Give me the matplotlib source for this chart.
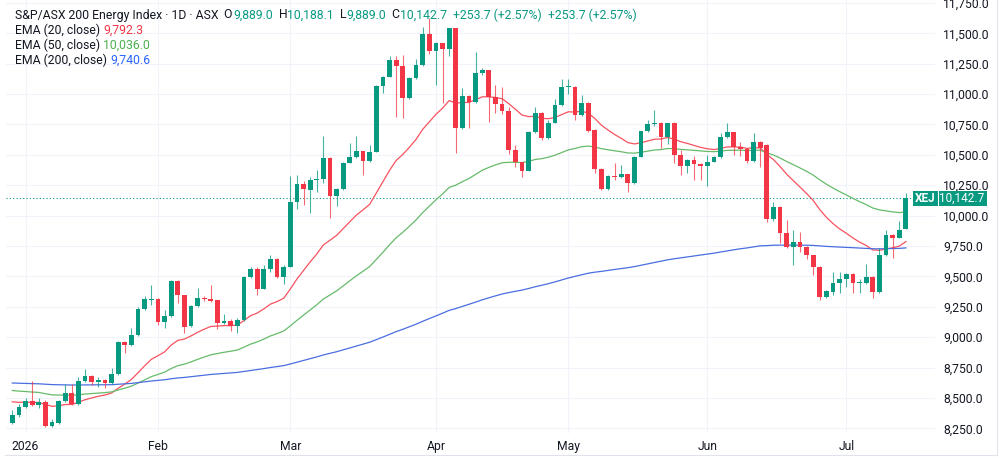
import matplotlib
matplotlib.use("Agg")
import matplotlib.pyplot as plt
import matplotlib.transforms as mtransforms
from matplotlib.patches import Rectangle
from matplotlib.lines import Line2D
import numpy as np

plt.rcParams['font.family'] = ['Roboto', 'DejaVu Sans']

# daily candles, 30 Dec 2025 .. 14 Jul 2026
opens = [8292, 8360, 8423, 8478, 8442, 8470, 8272, 8292, 8475, 8545,
         8450, 8642, 8683, 8630, 8650, 8620, 8697, 8958, 8935, 9018,
         9230, 9305, 9318, 9128, 9177, 9465, 9348, 9092, 9257, 9320,
         9318, 9305, 9118, 9135, 9092, 9142, 9493, 9560, 9400, 9560,
         9643, 9493, 9580, 10115, 10260, 10211, 10290, 10300, 10472, 10162,
         10217, 10436, 10480, 10530, 10452, 10526, 11066, 11143, 11280, 11231,
         10965, 11130, 11240, 11494, 11357, 11418, 11371, 11541, 10718, 10987,
         10938, 11171, 11198, 10978, 10918, 10863, 10540, 10444, 10370, 10690,
         10847, 10641, 10765, 10910, 11060, 11060, 10828, 10930, 10705, 10381,
         10216, 10326, 10316, 10340, 10266, 10485, 10696, 10754, 10760, 10650,
         10760, 10499, 10408, 10458, 10423, 10408, 10444, 10480, 10644, 10685,
         10567, 10552, 10452, 10608, 10581, 9970, 10073, 9855, 9745, 9780,
         9745, 9676, 9580, 9333, 9374, 9444, 9479, 9518, 9448, 9448,
         9493, 9374, 9676, 9840, 9820, 9889.0]
highs = [8400, 8450, 8500, 8640, 8500, 8480, 8330, 8480, 8612, 8615,
         8675, 8735, 8690, 8670, 8655, 8745, 8970, 8965, 9073, 9250,
         9340, 9430, 9325, 9220, 9470, 9470, 9350, 9265, 9403, 9340,
         9430, 9310, 9195, 9150, 9160, 9500, 9580, 9575, 9595, 9680,
         9648, 9590, 10326, 10334, 10285, 10320, 10376, 10655, 10480, 10230,
         10445, 10600, 10655, 10535, 10580, 11075, 11150, 11313, 11313, 11321,
         11140, 11286, 11550, 11623, 11425, 11420, 11545, 11545, 11048, 10990,
         11349, 11215, 11200, 11075, 11060, 10890, 10580, 10445, 10700, 10890,
         10850, 10790, 10957, 11122, 11122, 11070, 10990, 10935, 10710, 10390,
         10335, 10435, 10416, 10345, 10490, 10700, 10787, 10870, 10770, 10765,
         10770, 10540, 10470, 10490, 10430, 10499, 10490, 10680, 10765, 10690,
         10608, 10560, 10677, 10615, 10590, 10115, 10080, 9964, 9882, 9868,
         9750, 9680, 9585, 9390, 9540, 9540, 9530, 9525, 9480, 9602,
         9500, 9730, 9882, 9845, 9955, 10188.1]
lows = [8288, 8345, 8415, 8430, 8420, 8265, 8265, 8290, 8470, 8445,
        8445, 8635, 8607, 8593, 8585, 8615, 8690, 8867, 8930, 9010,
        9225, 9265, 9100, 9073, 9170, 9280, 9035, 9085, 9250, 9295,
        9290, 9070, 9110, 9050, 9037, 9135, 9485, 9347, 9395, 9540,
        9490, 9440, 9575, 10052, 10088, 10020, 10197, 10268, 9980, 10080,
        10210, 10430, 10475, 10334, 10445, 10520, 11012, 11140, 10814, 10800,
        10960, 11125, 11235, 11330, 11075, 10925, 11313, 10513, 10710, 10720,
        10930, 11160, 10773, 10847, 10840, 10510, 10403, 10320, 10365, 10680,
        10620, 10630, 10760, 10900, 11000, 10790, 10820, 10690, 10348, 10210,
        10210, 10293, 10310, 10197, 10260, 10480, 10690, 10740, 10557, 10590,
        10433, 10334, 10348, 10293, 10293, 10244, 10440, 10475, 10640, 10499,
        10490, 10430, 10440, 10397, 9950, 9960, 9772, 9730, 9594, 9703,
        9640, 9512, 9306, 9325, 9347, 9360, 9415, 9360, 9360, 9440,
        9320, 9360, 9670, 9650, 9815, 9889.0]
closes = [8360, 8423, 8478, 8442, 8470, 8272, 8300, 8475, 8545, 8450,
          8642, 8683, 8634, 8650, 8620, 8697, 8958, 8935, 9018, 9230,
          9312, 9318, 9128, 9177, 9465, 9348, 9087, 9257, 9320, 9315,
          9300, 9120, 9133, 9092, 9142, 9493, 9560, 9400, 9560, 9643,
          9493, 9580, 10115, 10260, 10217, 10293, 10300, 10472, 10162, 10217,
          10436, 10480, 10530, 10452, 10526, 11066, 11143, 11280, 11231, 10965,
          11130, 11240, 11494, 11357, 11418, 11371, 11541, 10718, 10987, 10938,
          11171, 11198, 10978, 10918, 10863, 10540, 10444, 10370, 10690, 10847,
          10641, 10765, 10910, 11056, 11070, 10828, 10930, 10697, 10381, 10216,
          10326, 10316, 10340, 10266, 10485, 10696, 10754, 10760, 10650, 10760,
          10499, 10408, 10458, 10423, 10408, 10444, 10480, 10644, 10685, 10567,
          10546, 10452, 10608, 10554, 9970, 10073, 9855, 9745, 9780, 9745,
          9676, 9580, 9333, 9380, 9444, 9479, 9518, 9448, 9456, 9493,
          9374, 9676, 9840, 9820, 9882, 10142.7]

month_labels = ["2026", "Feb", "Mar", "Apr", "May", "Jun", "Jul"]
month_idx = [2, 22, 42, 64, 84, 105, 126]   # first trading day of each month

ema_periods = [20, 50, 200]
ema_seeds = [8480, 8570, 8626]               # EMA values just before the first bar
ema_legend = ["9,792.3", "10,036.0", "9,740.6"]

GREEN = "#089981"
RED = "#f23645"
DARK = "#131722"
GRID = "#f0f3fa"
ema_colors = ["#f7525f", "#66bb6a", "#4a6ee0"]
legend_colors = ["#f23645", "#4caf50", "#2962ff"]


def ema(vals, n, seed):
    a = 2.0 / (n + 1)
    e = seed
    out = []
    for v in vals:
        e = e + a * (v - e)
        out.append(e)
    return np.array(out)


W, H = 1000, 458
fig = plt.figure(figsize=(W / 100, H / 100), dpi=100)
ax = fig.add_axes([6 / W, 1 - 433 / H, 929 / W, 433 / H])

x = np.arange(len(closes))
o = np.array(opens, float)
c = np.array(closes, float)
up = c >= o
cols = np.where(up, GREEN, RED)

# grid
for v in range(8250, 11751, 250):
    ax.axhline(v, color=GRID, lw=0.8, zorder=0)
for m in month_idx:
    ax.axvline(m, color=GRID, lw=0.8, zorder=0)

# EMAs
for n, seed, col in zip(ema_periods, ema_seeds, ema_colors):
    ax.plot(x, ema(closes, n, seed), color=col, lw=0.9, zorder=2)

# candles
ax.vlines(x, lows, highs, colors=cols, lw=0.8, alpha=0.75, zorder=3)
body_lo = np.minimum(o, c)
body_h = np.maximum(np.abs(c - o), 9)
ax.bar(x, body_h, bottom=body_lo, width=0.72, color=cols, lw=0, zorder=4)

# last price line
last = closes[-1]
ax.axhline(last, color=GREEN, lw=0.8, ls=(0, (1, 2)), zorder=1)

ax.set_xlim(-0.95, 139.4)
ax.set_ylim(8212, 11774)
for s in ax.spines.values():
    s.set_visible(False)
ax.yaxis.tick_right()
ax.set_yticks(range(8250, 11751, 250))
ax.set_yticklabels([f"{v:,.1f}" for v in range(8250, 11751, 250)])
ax.set_xticks(month_idx)
ax.set_xticklabels(month_labels)
ax.tick_params(axis='y', length=0, pad=6, labelsize=8.7, labelcolor=DARK)
ax.tick_params(axis='x', length=0, pad=5, labelsize=8.7, labelcolor=DARK)

# price label box on the scale
trans = mtransforms.blended_transform_factory(fig.transFigure, ax.transData)
bh = 123
ax.add_patch(Rectangle((0.913, last - bh / 2), 0.074, bh, transform=trans,
                       facecolor=GREEN, edgecolor='none', clip_on=False, zorder=10))
ax.add_line(Line2D([0.9375, 0.9375], [last - bh / 2, last + bh / 2], transform=trans,
                   color="white", lw=0.8, clip_on=False, zorder=11))
ax.text(0.925, last, "XEJ", transform=trans, color="white", fontsize=8.5,
        ha='center', va='center', zorder=12, fontweight='bold')
ax.text(0.962, last, f"{last:,.1f}", transform=trans, color="white", fontsize=8.5,
        ha='center', va='center', zorder=12)

# frame lines
fig.add_artist(Line2D([0.005, 0.997], [1 - 455 / H, 1 - 455 / H], color="#e0e3eb", lw=0.8))
fig.add_artist(Line2D([0.997, 0.997], [1 - 455 / H, 1], color="#e0e3eb", lw=0.8))

# legend (header)
fig.canvas.draw()
r = fig.canvas.get_renderer()


def put_row(pieces, y_px, fs=8.8):
    xp = 15
    for s, col in pieces:
        t = fig.text(xp / W, 1 - y_px / H, s, color=col, fontsize=fs, va='center', ha='left')
        xp = t.get_window_extent(r).x1


put_row([("S&P/ASX 200 Energy Index · 1D · ASX", DARK),
         ("  O", DARK), ("9,889.0", GREEN),
         ("  H", DARK), ("10,188.1", GREEN),
         ("  L", DARK), ("9,889.0", GREEN),
         ("  C", DARK), ("10,142.7", GREEN),
         ("  +253.7 (+2.57%)", GREEN),
         ("  +253.7 (+2.57%)", GREEN)], 15)
for k, (n, val, col) in enumerate(zip(ema_periods, ema_legend, legend_colors)):
    put_row([(f"EMA ({n}, close) ", DARK), (val, col)], 30 + 15 * k)

fig.savefig("out.png", dpi=100)
